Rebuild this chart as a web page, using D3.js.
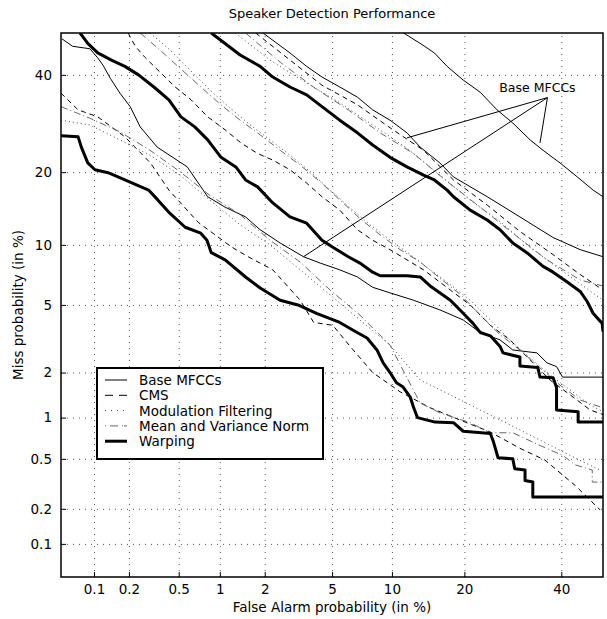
<!DOCTYPE html>
<html lang="en">
<head>
<meta charset="utf-8">
<script src="https://d3js.org/d3.v7.min.js"></script>
<style>
  body { margin: 0; background: #fff; }
  text { font-family: "DejaVu Sans", sans-serif; fill: #000; }
  .grid line { stroke: #555; stroke-dasharray: 1,5; stroke-width: 1; }
  .grid .domain { display: none; }
  .ax .domain { display: none; }
  .ax line { stroke: #000; }
  .ax text { font-size: 13.5px; font-family: "DejaVu Sans", sans-serif; }
</style>
</head>
<body>
<svg id="chart" width="607" height="619"></svg>
<script>
// tick values (percent)
const xTicks = [0.1, 0.2, 0.5, 1, 2, 5, 10, 20, 40];
const yTicks = [0.1, 0.2, 0.5, 1, 2, 5, 10, 20, 40];
const limits = [0.05, 50];

// DET curves: [false alarm %, miss %]
const warpA = [[0.05,26.7],[0.072,26.5],[0.077,24.5],[0.088,21.6],[0.102,20.4],[0.133,19.9],[0.185,18.7],[0.29,17.1],[0.345,15.6],[0.42,13.9],[0.56,12.0],[0.73,11.3],[0.81,10.5],[0.87,9.2],[1.09,8.5],[1.5,7.0],[1.87,6.15],[2.5,5.3],[3.2,5.0],[4.1,4.5],[5.5,4.0],[6.5,3.6],[7.6,3.25],[8.5,2.76],[9.1,2.3],[9.8,2.0],[10.5,1.72],[11.2,1.62],[12.1,1.38],[12.5,1.18],[13.0,1.0],[15.4,0.93],[18.2,0.92],[19.8,0.8],[24.7,0.77],[25.3,0.67],[26.2,0.51],[29.2,0.5],[29.6,0.42],[31.8,0.41],[31.8,0.34],[33.5,0.33],[33.5,0.25],[50,0.25]];
const warpB = [[0.075,50],[0.088,47.5],[0.108,45.2],[0.142,43.5],[0.185,42.0],[0.24,40],[0.32,37.2],[0.42,34.3],[0.52,30.6],[0.66,28.5],[0.82,25.9],[1.02,22.6],[1.29,20.9],[1.5,18.7],[1.8,17.6],[2.25,15.2],[2.87,13.3],[3.6,12.5],[4.4,10.5],[5.0,9.8],[6.1,8.8],[7.0,8.2],[8.1,7.4],[8.8,7.1],[11.7,7.1],[13.35,7.0],[14.7,6.3],[17.7,5.3],[19.8,4.5],[21.5,3.95],[22.8,3.5],[24.7,3.35],[26.6,2.9],[27.2,2.65],[30.7,2.5],[30.7,2.2],[34.6,2.15],[35.1,1.87],[38.1,1.85],[38.9,1.6],[38.9,1.13],[44.0,1.1],[44.0,0.93],[50,0.93]];
const warpC = [[0.87,50],[1.38,44.7],[1.87,42.0],[2.25,39.5],[2.87,37.2],[3.6,35.4],[4.4,32.8],[5.5,29.9],[6.8,27.3],[8.1,24.9],[9.8,22.6],[11.7,20.9],[13.8,19.5],[15.3,18.7],[17.2,17.1],[18.2,16.1],[21.0,14.2],[24.1,12.9],[26.6,11.7],[29.2,10.2],[32.2,9.2],[35.8,7.9],[38.1,7.4],[41.4,6.6],[44.5,5.9],[46.2,5.2],[47.6,4.5],[49.8,3.95],[50,3.55]];

const baseA = [[0.051,48.6],[0.064,46.8],[0.092,46.2],[0.108,44.0],[0.12,42.3],[0.139,39.2],[0.168,35.8],[0.205,32.8],[0.248,28.5],[0.34,24.5],[0.45,22.6],[0.58,20.9],[0.82,16.1],[1.09,14.6],[1.5,13.3],[1.87,11.7],[2.5,10.2],[3.45,8.8],[4.3,8.2],[5.5,7.6],[6.8,7.0],[8.1,6.2],[9.8,5.8],[12.5,5.3],[16.1,4.7],[19.8,4.13],[22.8,3.5],[26.6,3.17],[29.2,2.76],[34.4,2.65],[36.7,2.3],[38.9,2.18],[40.3,1.87],[50,1.87]];
const baseB = [[1.95,50],[2.87,45.2],[3.6,42.0],[4.4,39.5],[5.5,37.2],[6.8,34.9],[8.1,32.1],[9.8,29.9],[11.7,27.3],[13.35,24.5],[16.1,21.6],[18.2,19.2],[24.1,16.1],[30.7,13.3],[38.1,10.8],[44.5,9.5],[50,8.8]];
const baseC = [[11.3,50],[13.35,47.5],[15.3,45.2],[17.2,42.0],[19.8,38.8],[22.8,36.0],[26.0,32.1],[29.2,29.3],[32.9,25.9],[35.8,23.9],[39.7,21.6],[43.8,19.2],[47.6,17.1],[50,16.1]];

const cmsA = [[0.05,35.8],[0.072,32.1],[0.108,30.6],[0.185,26.5],[0.30,21.6],[0.42,17.1],[0.70,12.6],[1.2,9.8],[1.56,8.8],[2.25,7.6],[3.3,5.3],[3.95,4.0],[5.05,3.85],[6.24,2.9],[8.1,2.0],[10.9,1.5],[14.7,1.17],[19.3,0.96],[24.7,0.79],[30.7,0.6],[36.2,0.49],[43.3,0.31],[49.3,0.196]];
const mfA = [[0.05,29.9],[0.092,28.9],[0.168,25.9],[0.298,23.0],[0.51,19.5],[0.85,15.6],[1.38,12.3],[2.16,10.0],[3.3,7.6],[4.88,5.65],[7.0,4.13],[9.8,2.95],[13.35,1.79],[17.7,1.43],[22.8,1.13],[28.6,0.89],[35.1,0.69],[42.1,0.53],[49.3,0.41]];
const mvnA = [[0.05,32.8],[0.092,30.3],[0.168,27.5],[0.298,23.9],[0.51,20.1],[0.85,16.3],[1.38,13.6],[2.16,10.5],[3.3,8.3],[4.88,6.0],[7.0,4.4],[9.8,2.95],[13.35,1.26],[16.1,1.08],[21.0,0.92],[24.7,0.78],[29.2,0.78],[35.1,0.63],[40.4,0.53],[43.3,0.45],[47.4,0.41],[47.4,0.33],[50,0.33]];

const cmsB = [[0.197,50],[0.226,46.8],[0.27,44.2],[0.345,41.1],[0.47,37.2],[0.62,34.3],[0.82,30.6],[1.09,27.9],[1.4,25.3],[1.8,23.3],[2.25,22.1],[2.87,20.4],[3.6,18.2],[4.4,16.1],[5.5,14.2],[6.8,11.7],[8.1,10.5],[9.8,9.5],[11.7,8.5],[13.8,7.6],[17.7,6.0],[21.0,5.0],[24.7,3.85],[28.6,3.17],[32.9,2.4],[37.4,1.79],[42.1,1.43],[46.9,1.13],[50,1.05]];
const mfB = [[0.298,50],[0.43,45.9],[0.61,41.1],[0.85,36.5],[1.18,32.5],[1.61,28.9],[2.16,25.9],[2.87,23.0],[3.77,20.1],[4.88,17.1],[6.24,14.5],[7.87,12.3],[9.82,10.5],[12.1,9.0],[14.7,7.6],[17.7,6.4],[21.0,5.3],[24.7,4.13],[28.6,3.17],[32.9,2.47],[37.4,1.93],[42.1,1.54],[46.9,1.22],[50,1.1]];
const mvnB = [[0.248,50],[0.358,45.9],[0.51,41.6],[0.72,37.4],[1.0,33.4],[1.38,29.9],[1.87,26.9],[2.5,23.9],[3.3,21.2],[4.3,18.4],[5.52,15.6],[7.0,13.1],[8.8,11.1],[10.9,9.5],[13.35,8.3],[16.1,6.9],[19.3,5.7],[22.8,4.4],[26.6,3.4],[30.7,2.76],[35.1,2.14],[39.7,1.66],[44.5,1.32],[50,1.17]];

const cmsC = [[1.75,50],[2.87,43.5],[4.4,37.6],[6.8,33.2],[9.82,28.3],[13.8,23.9],[18.2,18.7],[24.1,14.9],[30.7,11.5],[38.1,9.0],[44.5,7.2],[50,6.0]];
const mfC = [[1.28,50],[2.16,43.5],[3.6,38.1],[5.52,33.6],[8.1,28.9],[11.7,24.3],[16.1,19.5],[21.0,15.6],[26.6,12.7],[33.6,9.47],[41.4,7.2],[50,5.3]];
const mvnC = [[1.5,50],[2.5,43.0],[4.0,37.0],[6.1,32.1],[8.8,27.3],[12.5,23.3],[16.9,18.7],[22.8,14.6],[29.2,11.3],[36.7,8.5],[44.5,6.76],[50,6.3]];

// "Base MFCCs" annotation: label anchor and arrow targets
const noteFrom = [36.8, 34.8];
const noteTargets = [[11.7, 26.3], [3.45, 8.8], [35.1, 25.3]];

const systems = [
  {name: 'Base MFCCs', key: 'base', series: [baseA, baseB, baseC]},
  {name: 'CMS', key: 'cms', series: [cmsA, cmsB, cmsC]},
  {name: 'Modulation Filtering', key: 'mf', series: [mfA, mfB, mfC]},
  {name: 'Mean and Variance Norm', key: 'mvn', series: [mvnA, mvnB, mvnC]},
  {name: 'Warping', key: 'warp', series: [warpA, warpB, warpC]}
];

const styles = {
  base: {stroke: '#000', width: 1, dash: null, legDash: null},
  cms:  {stroke: '#000', width: 1, dash: '5,4', legDash: '8,6'},
  mf:   {stroke: '#444', width: 1, dash: '1,3', legDash: '1,5'},
  mvn:  {stroke: '#666', width: 1, dash: '7,3,1,3', legDash: '1,4,8,4,1'},
  warp: {stroke: '#000', width: 3, dash: null, legDash: null}
};

// inverse normal CDF (Acklam)
function probit(p) {
  const a = [-3.969683028665376e+01, 2.209460984245205e+02, -2.759285104469687e+02, 1.383577518672690e+02, -3.066479806614716e+01, 2.506628277459239e+00];
  const b = [-5.447609879822406e+01, 1.615858368580409e+02, -1.556989798598866e+02, 6.680131188771972e+01, -1.328068155288572e+01];
  const c = [-7.784894002430293e-03, -3.223964580411365e-01, -2.400758277161838e+00, -2.549732539343734e+00, 4.374664141464968e+00, 2.938163982698783e+00];
  const d = [7.784695709041462e-03, 3.224671290700398e-01, 2.445134137142996e+00, 3.754408661907416e+00];
  const plow = 0.02425;
  let q, r;
  if (p < plow) {
    q = Math.sqrt(-2 * Math.log(p));
    return (((((c[0]*q+c[1])*q+c[2])*q+c[3])*q+c[4])*q+c[5]) / ((((d[0]*q+d[1])*q+d[2])*q+d[3])*q+1);
  } else if (p <= 1 - plow) {
    q = p - 0.5; r = q * q;
    return (((((a[0]*r+a[1])*r+a[2])*r+a[3])*r+a[4])*r+a[5])*q / (((((b[0]*r+b[1])*r+b[2])*r+b[3])*r+b[4])*r+1);
  }
  return -probit(1 - p);
}
const pz = v => probit(v / 100);

const svg = d3.select('#chart');
const margin = {left: 61, top: 33, right: 4, bottom: 42};
const width = 607 - margin.left - margin.right;
const height = 619 - margin.top - margin.bottom;

const x = d3.scaleLinear().domain(limits.map(pz)).range([0, width]);
const y = d3.scaleLinear().domain(limits.map(pz)).range([height, 0]);

const g = svg.append('g').attr('transform', `translate(${margin.left},${margin.top})`);

svg.append('defs').append('clipPath').attr('id', 'clip')
  .append('rect').attr('width', width).attr('height', height);

// grid
g.append('g').attr('class', 'grid')
  .attr('transform', `translate(0,${height})`)
  .call(d3.axisBottom(x).tickValues(xTicks.map(pz)).tickSize(-height).tickFormat(''));
g.append('g').attr('class', 'grid')
  .call(d3.axisLeft(y).tickValues(yTicks.map(pz)).tickSize(-width).tickFormat(''));

// axes with labels, small inward ticks
g.append('g').attr('class', 'ax')
  .attr('transform', `translate(0,${height})`)
  .call(d3.axisBottom(x).tickValues(xTicks.map(pz)).tickSizeInner(-5).tickSizeOuter(0)
    .tickPadding(7).tickFormat((d, i) => xTicks[i]));
g.append('g').attr('class', 'ax')
  .call(d3.axisLeft(y).tickValues(yTicks.map(pz)).tickSizeInner(-5).tickSizeOuter(0)
    .tickPadding(9).tickFormat((d, i) => yTicks[i]));

// curves
const line = d3.line().x(d => x(pz(d[0]))).y(d => y(pz(d[1])));
const curves = g.append('g').attr('clip-path', 'url(#clip)');
systems.forEach(s => {
  const st = styles[s.key];
  s.series.forEach(data => {
    curves.append('path')
      .datum(data)
      .attr('d', line)
      .attr('fill', 'none')
      .attr('stroke', st.stroke)
      .attr('stroke-width', st.width)
      .attr('stroke-linejoin', 'round')
      .attr('stroke-dasharray', st.dash);
  });
});

// frame
g.append('rect').attr('width', width).attr('height', height)
  .attr('fill', 'none').attr('stroke', '#000').attr('stroke-width', 1.5);

// annotation
noteTargets.forEach(t => {
  g.append('line')
    .attr('x1', x(pz(noteFrom[0]))).attr('y1', y(pz(noteFrom[1])))
    .attr('x2', x(pz(t[0]))).attr('y2', y(pz(t[1])))
    .attr('stroke', '#000').attr('stroke-width', 1);
});
g.append('text')
  .attr('x', x(pz(noteFrom[0])) - 10).attr('y', y(pz(noteFrom[1])) - 6)
  .attr('text-anchor', 'middle').style('font-size', '12.5px')
  .text('Base MFCCs');

// legend
const leg = g.append('g').attr('transform', `translate(${97 - margin.left},${368 - margin.top})`);
leg.append('rect').attr('width', 226).attr('height', 91)
  .attr('fill', '#fff').attr('stroke', '#000').attr('stroke-width', 2);
systems.forEach((s, i) => {
  const st = styles[s.key];
  const yy = 12 + i * 15.3;
  leg.append('line').attr('x1', 8).attr('x2', 30).attr('y1', yy).attr('y2', yy)
    .attr('stroke', st.stroke).attr('stroke-width', st.width)
    .attr('stroke-dasharray', st.legDash);
  leg.append('text').attr('x', 42).attr('y', yy + 5)
    .style('font-size', '13.5px').text(s.name);
});

// titles
svg.append('text').attr('x', margin.left + width / 2).attr('y', 18)
  .attr('text-anchor', 'middle').style('font-size', '13px')
  .text('Speaker Detection Performance');
svg.append('text').attr('x', margin.left + width / 2).attr('y', 612)
  .attr('text-anchor', 'middle').style('font-size', '13.5px')
  .text('False Alarm probability (in %)');
svg.append('text')
  .attr('transform', `translate(23,${margin.top + height / 2}) rotate(-90)`)
  .attr('text-anchor', 'middle').style('font-size', '13.5px')
  .text('Miss probability (in %)');
</script>
</body>
</html>
